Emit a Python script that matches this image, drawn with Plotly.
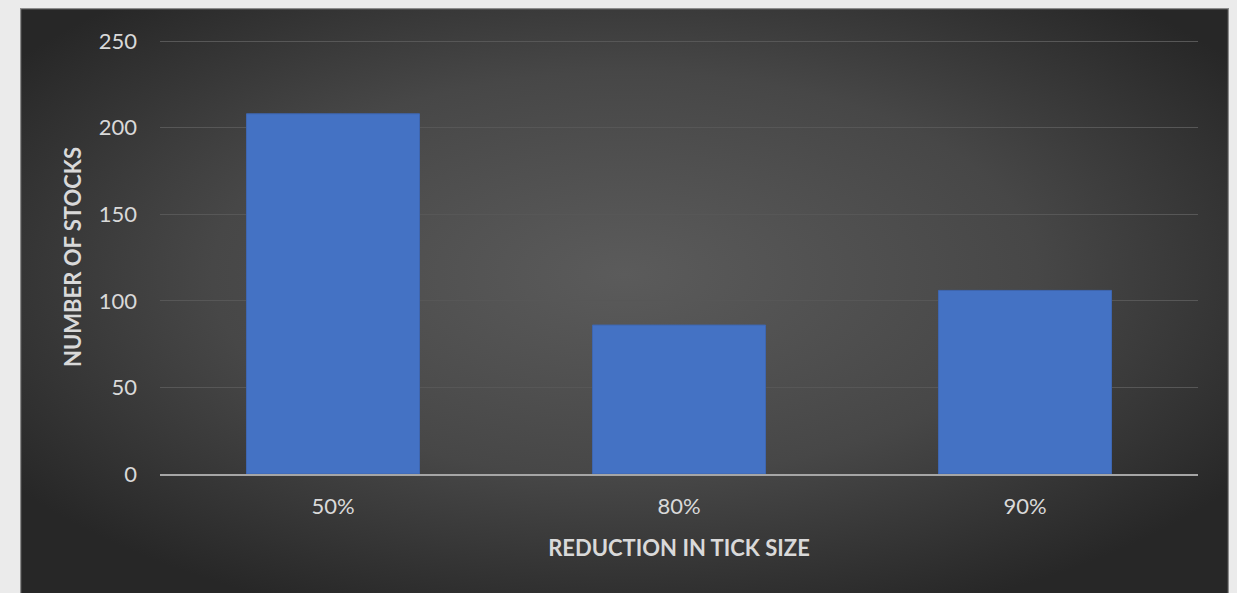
import plotly.graph_objects as go
import base64

categories = ["50%", "80%", "90%"]
stocks = [208, 86, 106]
y_ticks = [0, 50, 100, 150, 200, 250]

svg = """<svg xmlns='http://www.w3.org/2000/svg' width='1209' height='590' viewBox='0 0 1209 590' preserveAspectRatio='none'>
<defs><radialGradient id='g' cx='0.5' cy='0.45' r='0.62' gradientUnits='objectBoundingBox'>
<stop offset='0' stop-color='#5b5b5b'/><stop offset='0.55' stop-color='#474747'/><stop offset='1' stop-color='#272727'/>
</radialGradient></defs>
<rect x='0' y='0' width='1209' height='590' fill='url(#g)'/>
<rect x='0.5' y='0.5' width='1208' height='589' fill='none' stroke='#8c8c8c' stroke-width='1.5'/>
</svg>"""
src = "data:image/svg+xml;base64," + base64.b64encode(svg.encode()).decode()

fig = go.Figure()
fig.add_trace(go.Bar(
    x=categories, y=stocks, width=0.5,
    marker=dict(color="#4472c4", line=dict(color="#3e66b0", width=1)),
))

L, R, T, B = 160, 39, 40, 119
W, H = 1237, 593
pw, ph = W - L - R, H - T - B
fig.add_layout_image(dict(
    source=src, xref="paper", yref="paper",
    x=(20 - L) / pw, y=1 + (T - 8) / ph,
    sizex=(1229 - 20) / pw, sizey=(600 - 8) / ph,
    xanchor="left", yanchor="top", sizing="stretch", layer="below",
))

font = "Lato, 'Open Sans', sans-serif"
fig.update_layout(
    width=W, height=H,
    margin=dict(l=L, r=R, t=T, b=B),
    paper_bgcolor="#ebebeb", plot_bgcolor="rgba(0,0,0,0)",
    showlegend=False, bargap=0.5,
    font=dict(family=font, color="#d9d9d9", size=22),
    xaxis=dict(
        showgrid=False, showline=True, linecolor="#a6a6a6", linewidth=2,
        ticks="", ticklabelstandoff=12, tickfont=dict(size=22, color="#d9d9d9"),
        title=dict(text="<b>REDUCTION IN TICK SIZE</b>", font=dict(size=22, color="#d9d9d9"), standoff=22),
    ),
    yaxis=dict(
        range=[0, 250.6], tickvals=y_ticks, showgrid=True, gridcolor="#575757", gridwidth=1,
        zeroline=False, showline=False, ticks="", ticklabelstandoff=22,
        tickfont=dict(size=22, color="#d9d9d9"),
        title=dict(text="<b>NUMBER OF STOCKS</b>", font=dict(size=22, color="#d9d9d9"), standoff=11),
    ),
)
fig.write_html("out.html")
